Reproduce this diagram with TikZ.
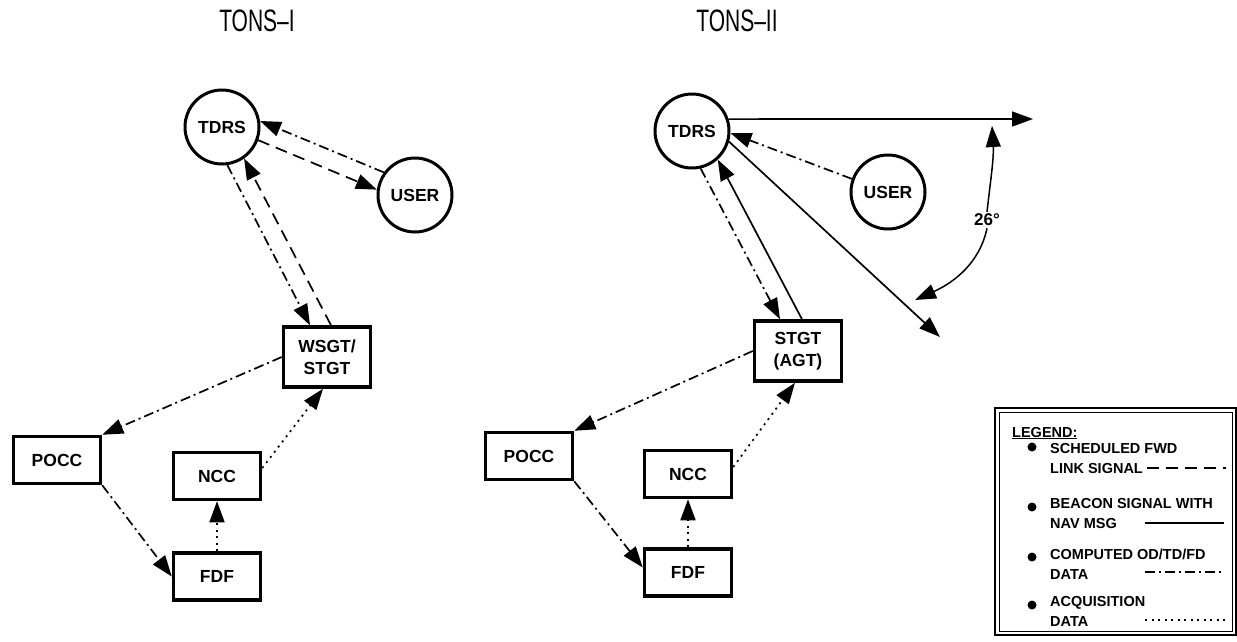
\documentclass[tikz,border=0pt]{standalone}
\usepackage{fontspec}
\setmainfont{Liberation Sans}
\usetikzlibrary{positioning,arrows.meta}

\tikzset{
  title/.style={font=\fontsize{20}{20}\selectfont},
  sat/.style={draw,circle,line width=3pt,minimum size=74pt,inner sep=0pt,font=\bfseries\fontsize{17.5}{17.5}\selectfont},
  stn/.style={draw,rectangle,line width=3.5pt,minimum width=87pt,minimum height=47pt,inner sep=0pt,align=center,font=\bfseries\fontsize{17.5}{22}\selectfont},
  key/.style={font=\bfseries\fontsize{14.5}{20}\selectfont,inner sep=0pt},
  sig/.style={-{Triangle[length=21pt,width=15pt]},line width=1.7pt},
  fwd/.style={dash pattern=on 12pt off 7pt},
  nav/.style={solid},
  od/.style={dash pattern=on 10pt off 4pt on 2pt off 4pt},
  acq/.style={dash pattern=on 2pt off 4.5pt}
}

\begin{document}
\begin{tikzpicture}[x=1pt,y=-1pt,node distance=50pt]
    \useasboundingbox (0,0) rectangle (1237,641);

    % TONS-I
    \node[title] (tonsA) at (257,21) {\scalebox{1.05}[1.55]{TONS--I}};
    \node[sat] (tdrsA) at (222,127) {TDRS};
    \node[sat] (userA) at (415,195) {USER};
    \node[stn,minimum height=60pt] (wsgt) at (327,357) {WSGT/\\STGT};
    \node[stn] (poccA) at (57,460) {POCC};
    \node[stn] (nccA) at (217,476) {NCC};
    \node[stn,below=of nccA] (fdfA) {FDF};

    \path (userA.144) edge [sig,od] (tdrsA.9);
    \path (tdrsA.-20) edge [sig,fwd] (userA.172);
    \path (tdrsA.-82) edge [sig,od] ([xshift=-17pt]wsgt.north);
    \path ([xshift=4pt]wsgt.north) edge [sig,fwd] (tdrsA.-55);
    \path (wsgt.west) edge [sig,od] (poccA.north east);
    \path (poccA.south east) edge [sig,od] (fdfA.west);
    \path (fdfA) edge [sig,acq] (nccA);
    \path ([yshift=8pt]nccA.east) edge [sig,acq] ([xshift=-4pt]wsgt.south);

    % TONS-II
    \node[title] (tonsB) at (737,21) {\scalebox{1.05}[1.55]{TONS--II}};
    \node[sat] (tdrsB) at (692,131) {TDRS};
    \node[sat] (userB) at (888,192) {USER};
    \node[stn,minimum height=60pt] (stgt) at (798,351) {STGT\\(AGT)};
    \node[stn] (poccB) at (529,456) {POCC};
    \node[stn] (nccB) at (688,474) {NCC};
    \node[stn,below=48pt of nccB] (fdfB) {FDF};

    \coordinate (beamT) at (1033,119);
    \coordinate (beamB) at (940,337);
    \coordinate (spanT) at (992,126);
    \coordinate (spanB) at (915,300);
    \node[key,font=\bfseries\fontsize{17}{17}\selectfont] (span) at (987,220) {26°};

    \path (tdrsB.18) edge [sig,nav] (beamT);
    \path (tdrsB.-16) edge [sig,nav] (beamB);
    \draw[sig,line width=1.5pt] ([yshift=2pt]span.north) .. controls (990,185) and (994,158) .. (spanT);
    \draw[sig,line width=1.5pt] ([yshift=-2pt]span.south) .. controls (980,262) and (955,282) .. (spanB);
    \path (userB.160) edge [sig,od] (tdrsB.-3);
    \path (tdrsB.-77) edge [sig,od] ([xshift=-18pt]stgt.north);
    \path ([xshift=4pt]stgt.north) edge [sig,nav] (tdrsB.-48);
    \path (stgt.west) edge [sig,od] (poccB.north east);
    \path (poccB.south east) edge [sig,od] ([yshift=5pt]fdfB.west);
    \path (fdfB) edge [sig,acq] (nccB);
    \path ([yshift=7pt]nccB.east) edge [sig,acq] ([xshift=-3pt]stgt.south);

    % legend
    \draw[line width=1.3pt] (995,408) rectangle (1236,635);
    \draw[line width=1pt] (999,412) rectangle (1232,631);
    \node[key,anchor=base west] (lgd) at (1012,437) {\underline{LEGEND:}};
    \fill (1032,447) circle (4.5pt);
    \node[key,anchor=base west,align=left] (itemA) at (1050,473) {SCHEDULED FWD\\LINK SIGNAL};
    \draw[fwd,line width=1.5pt] (1147,468) -- (1226,468);
    \fill (1032,507) circle (4.5pt);
    \node[key,anchor=base west,align=left] (itemB) at (1050,528) {BEACON SIGNAL WITH\\NAV MSG};
    \draw[nav,line width=1.5pt] (1145,523) -- (1224,523);
    \fill (1032,557) circle (4.5pt);
    \node[key,anchor=base west,align=left] (itemC) at (1050,579) {COMPUTED OD/TD/FD\\DATA};
    \draw[od,line width=1.5pt] (1145,572) -- (1224,572);
    \fill (1032,605) circle (4.5pt);
    \node[key,anchor=base west,align=left] (itemD) at (1050,626) {ACQUISITION\\DATA};
    \draw[acq,line width=1.5pt] (1145,620) -- (1226,620);
\end{tikzpicture}
\end{document}
